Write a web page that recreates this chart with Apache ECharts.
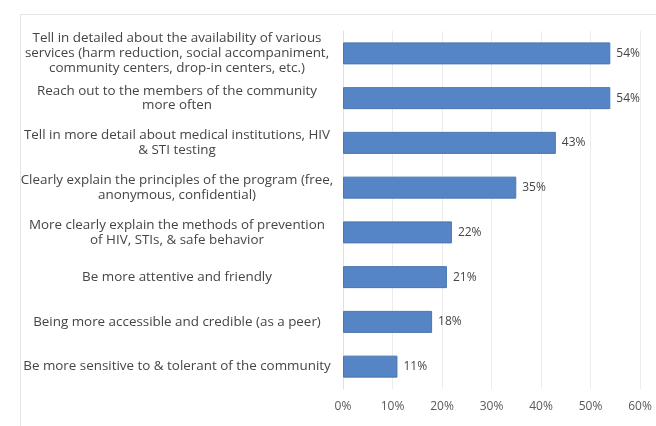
<!DOCTYPE html>
<html>
<head>
<meta charset="utf-8">
<script src="https://cdn.jsdelivr.net/npm/echarts@6/dist/echarts.min.js"></script>
<style>
  html, body { margin: 0; padding: 0; background: #ffffff; }
  #chart { width: 656px; height: 426px; }
</style>
</head>
<body>
<div id="chart"></div>
<script>
// Survey answers, top to bottom
const categories = [
  'Tell in detailed about the availability of various\nservices (harm reduction, social accompaniment,\ncommunity centers, drop-in centers, etc.)',
  'Reach out to the members of the community\nmore often',
  'Tell in more detail about medical institutions, HIV\n& STI testing',
  'Clearly explain the principles of the program (free,\nanonymous, confidential)',
  'More clearly explain the methods of prevention\nof HIV, STIs, & safe behavior',
  'Be more attentive and friendly',
  'Being more accessible and credible (as a peer)',
  'Be more sensitive to & tolerant of the community'
];
const shares = [54, 54, 43, 35, 22, 21, 18, 11];
const tickLabels = ['0%', '10%', '20%', '30%', '40%', '50%', '60%'];

const chart = echarts.init(document.getElementById('chart'), null, { renderer: 'canvas' });

chart.setOption({
  backgroundColor: '#ffffff',
  animation: false,
  graphic: [{
    type: 'rect',
    left: 18, top: 12,
    shape: { width: 650, height: 420 },
    style: { fill: 'none', stroke: '#e3e3e3', lineWidth: 1 },
    silent: true
  }],
  grid: { left: 343, right: 16, top: 31, bottom: 37, containLabel: false },
  xAxis: {
    type: 'value',
    min: 0, max: 60, interval: 10,
    axisLine: { show: false },
    axisTick: { show: false },
    splitLine: { show: true, lineStyle: { color: '#ececec', width: 1 } },
    axisLabel: {
      color: '#595959',
      fontFamily: 'Open Sans',
      fontSize: 12,
      margin: 12,
      formatter: (v) => tickLabels[v / 10]
    }
  },
  yAxis: {
    type: 'category',
    inverse: true,
    data: categories,
    axisLine: { show: true, lineStyle: { color: '#e0e0e0' } },
    axisTick: { show: false },
    axisLabel: {
      color: '#454545',
      fontFamily: 'Open Sans',
      fontSize: 13.4,
      lineHeight: 14.8,
      align: 'center',
      margin: 166,
      interval: 0
    }
  },
  series: [{
    type: 'bar',
    data: shares,
    barWidth: 22,
    itemStyle: { color: '#5585c4', borderColor: '#4a76b0', borderWidth: 1 },
    label: {
      show: true,
      position: 'right',
      distance: 6,
      color: '#454545',
      fontFamily: 'Open Sans',
      fontSize: 12,
      formatter: (p) => p.value + '%'
    }
  }]
});
</script>
</body>
</html>
